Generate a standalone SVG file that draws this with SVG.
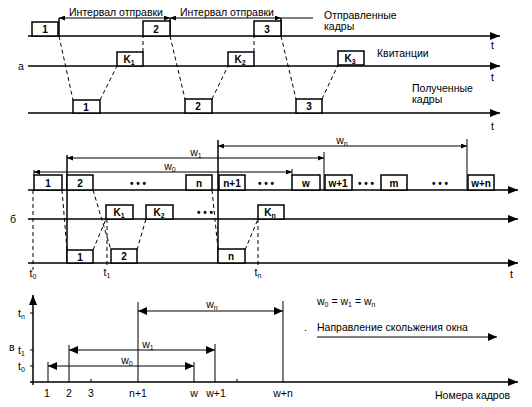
<svg xmlns="http://www.w3.org/2000/svg" width="532" height="407" viewBox="0 0 532 407">
<style>
text{font-family:"Liberation Sans",Arial,sans-serif;font-size:10.5px;fill:#000}
.b{font-weight:bold;text-anchor:middle;font-size:10px}
.m{text-anchor:middle}
.s{font-size:7px}
.ax{stroke:#000;stroke-width:1.5;fill:none}
.th{stroke:#000;stroke-width:1;fill:none}
.ds{stroke:#000;stroke-width:1;stroke-dasharray:4 3;fill:none}
.bx{fill:#fff;stroke:#000;stroke-width:1.5}
</style>
<defs>
<marker id="ar" markerUnits="userSpaceOnUse" markerWidth="10" markerHeight="8" refX="10" refY="4" orient="auto"><path d="M0,0L10,4L0,8z"/></marker>
<marker id="sa" markerUnits="userSpaceOnUse" markerWidth="6" markerHeight="5" refX="6" refY="2.5" orient="auto-start-reverse"><path d="M0,0L6,2.5L0,5z"/></marker>
<marker id="da" markerUnits="userSpaceOnUse" markerWidth="9" markerHeight="8" refX="9" refY="4" orient="auto-start-reverse"><path d="M0,0L9,4L0,8z"/></marker>
</defs>
<rect width="532" height="407" fill="#fff"/>

<!-- Section A -->
<g id="connectors-a">
<line class="ax" x1="28" y1="36" x2="500" y2="36" marker-end="url(#ar)"/>
<line class="ax" x1="28" y1="66" x2="500" y2="66" marker-end="url(#ar)"/>
<line class="ax" x1="28" y1="113" x2="500" y2="113" marker-end="url(#ar)"/>
<line class="th" x1="59" y1="18" x2="170" y2="18" marker-start="url(#sa)" marker-end="url(#sa)"/>
<line class="th" x1="170" y1="18" x2="281" y2="18" marker-start="url(#sa)" marker-end="url(#sa)"/>
<line class="th" x1="281" y1="18" x2="313" y2="18"/>
<line class="ax" x1="59" y1="18" x2="59" y2="36"/>
<line class="ax" x1="170" y1="18" x2="170" y2="36"/>
<line class="ax" x1="281" y1="18" x2="281" y2="36"/>
<path class="ds" d="M59,36L73,100M100,100L117,66M143,52L143,36M170,36L185,99M212,99L228,66M254,52L254,36M281,36L296,99M322,99L338,65"/>
</g>
<g id="a-s1"><rect class="bx" x="32" y="22" width="26" height="14"/><text class="b" x="45" y="33">1</text></g>
<g id="a-s2"><rect class="bx" x="143" y="21" width="27" height="15"/><text class="b" x="156" y="33">2</text></g>
<g id="a-s3"><rect class="bx" x="254" y="21" width="27" height="15"/><text class="b" x="267" y="33">3</text></g>
<g id="a-k1"><rect class="bx" x="117" y="52" width="26" height="14"/><text class="b" x="129" y="63">K<tspan class="s" dy="2">1</tspan></text></g>
<g id="a-k2"><rect class="bx" x="228" y="52" width="26" height="14"/><text class="b" x="240" y="63">K<tspan class="s" dy="2">2</tspan></text></g>
<g id="a-k3"><rect class="bx" x="338" y="51" width="26" height="14"/><text class="b" x="350" y="62">K<tspan class="s" dy="2">3</tspan></text></g>
<g id="a-r1"><rect class="bx" x="73" y="100" width="27" height="13"/><text class="b" x="86" y="111">1</text></g>
<g id="a-r2"><rect class="bx" x="185" y="99" width="27" height="14"/><text class="b" x="198" y="110">2</text></g>
<g id="a-r3"><rect class="bx" x="296" y="99" width="26" height="14"/><text class="b" x="309" y="110">3</text></g>
<text class="m" x="116" y="16">Интервал отправки</text>
<text class="m" x="227" y="16">Интервал отправки</text>
<text x="324" y="19">Отправленные</text>
<text x="324" y="30">кадры</text>
<text x="377" y="57">Квитанции</text>
<text x="412" y="92">Полученные</text>
<text x="412" y="103">кадры</text>
<text x="491" y="49">t</text>
<text x="491" y="81">t</text>
<text x="491" y="130">t</text>
<text x="18" y="70">а</text>

<!-- Section B -->
<g id="connectors-b">
<line class="ax" x1="28" y1="190" x2="518" y2="190" marker-end="url(#ar)"/>
<line class="ax" x1="28" y1="219" x2="518" y2="219" marker-end="url(#ar)"/>
<line class="ax" x1="28" y1="263" x2="518" y2="263" marker-end="url(#ar)"/>
<line class="th" x1="34" y1="172" x2="292" y2="172" marker-start="url(#sa)" marker-end="url(#sa)"/>
<line class="th" x1="67" y1="158" x2="324" y2="158" marker-start="url(#sa)" marker-end="url(#sa)"/>
<line class="th" x1="218" y1="146" x2="467" y2="146" marker-start="url(#sa)" marker-end="url(#sa)"/>
<line class="ax" x1="67" y1="155" x2="67" y2="263"/>
<line class="th" x1="34" y1="170" x2="34" y2="176"/>
<line class="ax" x1="218" y1="140" x2="218" y2="263"/>
<line class="th" x1="292" y1="169" x2="292" y2="176"/>
<line class="th" x1="324" y1="152" x2="324" y2="190"/>
<line class="th" x1="467" y1="139" x2="467" y2="190"/>
<path class="ds" d="M33,190L33,270M62,190L67,250M93,190L111,250M93,250L106,219M107,219L107,268M137,250L146,219M212,190L218,249M245,250L258,219M258,219L258,268"/>
</g>
<g id="b-s1"><rect class="bx" x="34" y="175" width="28" height="15"/><text class="b" x="48" y="187">1</text></g>
<g id="b-s2"><rect class="bx" x="67" y="175" width="26" height="15"/><text class="b" x="80" y="187">2</text></g>
<g id="b-sn"><rect class="bx" x="186" y="175" width="26" height="15"/><text class="b" x="199" y="187">n</text></g>
<g id="b-sn1"><rect class="bx" x="219" y="175" width="26" height="15"/><text class="b" x="232" y="187">n+1</text></g>
<g id="b-sw"><rect class="bx" x="292" y="175" width="28" height="15"/><text class="b" x="306" y="187">w</text></g>
<g id="b-sw1"><rect class="bx" x="325" y="175" width="27" height="15"/><text class="b" x="338" y="187">w+1</text></g>
<g id="b-sm"><rect class="bx" x="381" y="175" width="26" height="15"/><text class="b" x="394" y="187">m</text></g>
<g id="b-swn"><rect class="bx" x="468" y="175" width="26" height="15"/><text class="b" x="481" y="187">w+n</text></g>
<g id="b-k1"><rect class="bx" x="106" y="205" width="27" height="14"/><text class="b" x="119" y="216">K<tspan class="s" dy="2">1</tspan></text></g>
<g id="b-k2"><rect class="bx" x="146" y="205" width="27" height="14"/><text class="b" x="159" y="216">K<tspan class="s" dy="2">2</tspan></text></g>
<g id="b-kn"><rect class="bx" x="258" y="205" width="26" height="14"/><text class="b" x="270" y="216">K<tspan class="s" dy="2">n</tspan></text></g>
<g id="b-r1"><rect class="bx" x="67" y="250" width="26" height="13"/><text class="b" x="80" y="261">1</text></g>
<g id="b-r2"><rect class="bx" x="111" y="249" width="26" height="14"/><text class="b" x="124" y="260">2</text></g>
<g id="b-rn"><rect class="bx" x="218" y="249" width="27" height="14"/><text class="b" x="231" y="260">n</text></g>
<text class="b" x="138" y="187">• • •</text>
<text class="b" x="266" y="187">• • •</text>
<text class="b" x="366" y="187">• • •</text>
<text class="b" x="440" y="187">• • •</text>
<text class="b" x="205" y="216">• • •</text>
<text class="m" x="170" y="170" font-size="9">w<tspan class="s" dy="2">0</tspan></text>
<text class="m" x="196" y="156" font-size="9">w<tspan class="s" dy="2">1</tspan></text>
<text class="m" x="342" y="144" font-size="9">w<tspan class="s" dy="2">n</tspan></text>
<text class="m" x="33" y="277">t<tspan class="s" dy="2">0</tspan></text>
<text class="m" x="107" y="276">t<tspan class="s" dy="2">1</tspan></text>
<text class="m" x="258" y="276">t<tspan class="s" dy="2">n</tspan></text>
<text x="510" y="278">t</text>
<text x="10" y="223">б</text>

<!-- Section C -->
<g id="connectors-c">
<line class="ax" x1="33" y1="385" x2="33" y2="295" marker-end="url(#ar)"/>
<line class="ax" x1="30" y1="382" x2="518" y2="382" marker-end="url(#ar)"/>
<path class="th" d="M30,313H33M30,350H33M30,366H33M48,362V382M69,345V382M138,302V382M194,362V382M215,344V382M283,301V382M91,379V382M237,379V382"/>
<line class="th" x1="48" y1="366" x2="194" y2="366" marker-start="url(#da)" marker-end="url(#da)"/>
<line class="th" x1="69" y1="350" x2="215" y2="350" marker-start="url(#da)" marker-end="url(#da)"/>
<line class="th" x1="138" y1="311" x2="283" y2="311" marker-start="url(#da)" marker-end="url(#da)"/>
<line class="th" x1="317" y1="337" x2="497" y2="337" marker-end="url(#da)"/>
</g>
<text x="18" y="317">t<tspan class="s" dy="2">n</tspan></text>
<text x="18" y="354">t<tspan class="s" dy="2">1</tspan></text>
<text x="18" y="370">t<tspan class="s" dy="2">0</tspan></text>
<text x="9" y="351">в</text>
<text class="m" x="127" y="364" font-size="9">w<tspan class="s" dy="2">0</tspan></text>
<text class="m" x="148" y="348" font-size="9">w<tspan class="s" dy="2">1</tspan></text>
<text class="m" x="212" y="308" font-size="9">w<tspan class="s" dy="2">n</tspan></text>
<text class="m" x="47" y="397">1</text>
<text class="m" x="69" y="397">2</text>
<text class="m" x="91" y="397">3</text>
<text class="m" x="138" y="397">n+1</text>
<text class="m" x="194" y="397">w</text>
<text class="m" x="216" y="397">w+1</text>
<text class="m" x="283" y="397">w+n</text>
<text x="317" y="305" font-size="9">w<tspan class="s" dy="2">0</tspan><tspan dy="-2"> = w</tspan><tspan class="s" dy="2">1</tspan><tspan dy="-2"> = w</tspan><tspan class="s" dy="2">n</tspan></text>
<text x="304" y="331">.</text>
<text x="317" y="331">Направление скольжения окна</text>
<text x="435" y="399">Номера кадров</text>
</svg>
